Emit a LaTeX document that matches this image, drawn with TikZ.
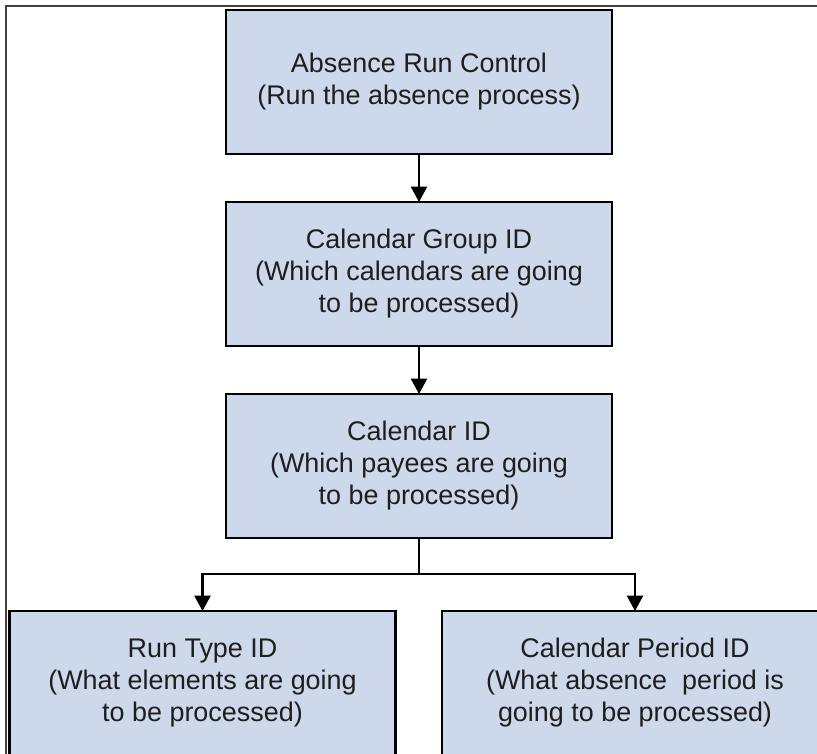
\documentclass[tikz,border=0pt]{standalone}
\usepackage{fontspec}
\setmainfont{Liberation Sans}
\usetikzlibrary{arrows.meta}

\definecolor{boxfill}{HTML}{CDD9EA}
\definecolor{framegray}{HTML}{404040}
\definecolor{textgray}{HTML}{1E1E1E}

\tikzset{
  stepbox/.style={
    draw=black, fill=boxfill, line width=2pt,
    minimum width=289.5pt, minimum height=108pt,
    inner sep=0pt, outer sep=0pt, align=center,
    text=textgray,
    font=\fontsize{20.2pt}{24pt}\selectfont
  },
  flow/.style={
    draw=black, line width=1.6pt,
    -{Triangle[width=12pt,length=11.5pt]}
  },
  link/.style={draw=black, line width=1.6pt}
}

\begin{document}
\begin{tikzpicture}[x=0.75pt, y=-0.75pt]
  \useasboundingbox (0,0) rectangle (817,753);
  \clip (0,0) rectangle (817,753);

  % outer frame, top and left sides only
  \draw[framegray, line width=1.2pt] (817,6) -- (6,6) -- (6,760);

  % process steps
  \node[stepbox] (run)    at (419,82)  {Absence Run Control\\(Run the absence process)};
  \node[stepbox] (group)  at (419,274) {Calendar Group ID\\(Which calendars are going\\to be processed)};
  \node[stepbox] (cal)    at (419,466) {Calendar ID\\(Which payees are going\\to be processed)};
  \node[stepbox] (rtype)  at (202.5,683) {Run Type ID\\(What elements are going\\to be processed)};
  \node[stepbox] (period) at (635,683) {Calendar Period ID\\(What absence\ \ period is\\going to be processed)};

  % connectors
  \draw[flow] (run.south) -- (group.north);
  \draw[flow] (group.south) -- (cal.north);
  \coordinate (split) at (419,574);
  \draw[link] (cal.south) -- (split);
  \draw[flow] (split) -| (rtype.north);
  \draw[flow] (split) -| (period.north);
\end{tikzpicture}
\end{document}
